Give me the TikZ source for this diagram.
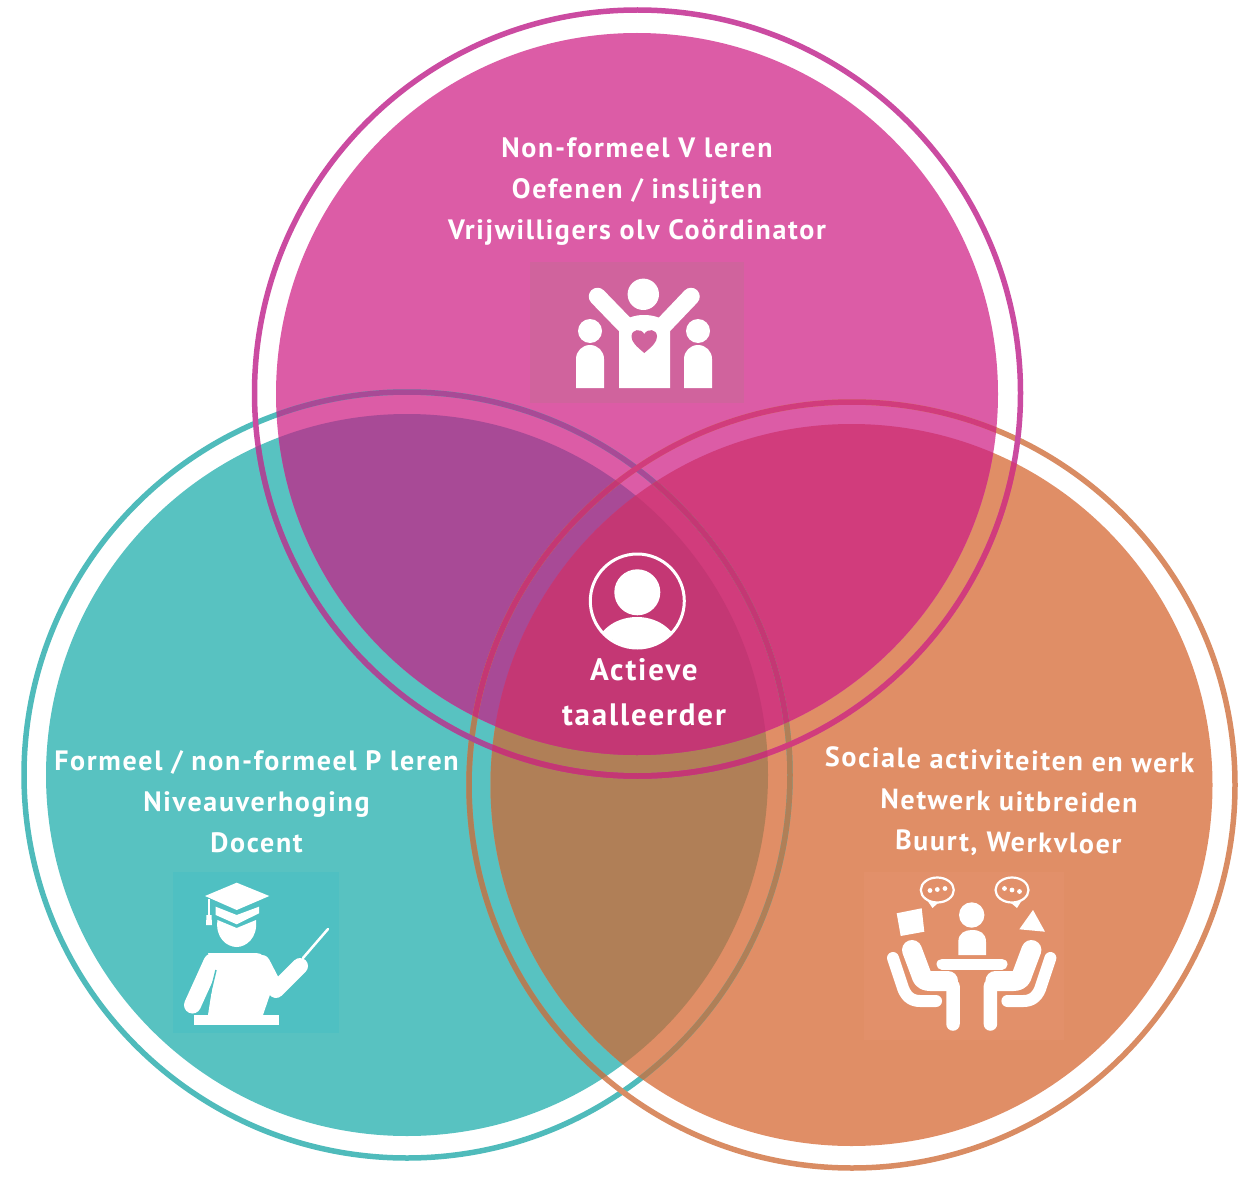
\documentclass[tikz,border=0pt]{standalone}
\usepackage{fontspec}
\setmainfont[LetterSpace=6.0]{PT Sans}
\definecolor{cP}{HTML}{DC5CA6}\definecolor{cT}{HTML}{58C2C1}\definecolor{cO}{HTML}{E08E66}
\definecolor{cPT}{HTML}{A84A96}\definecolor{cPO}{HTML}{D13C7C}\definecolor{cTO}{HTML}{B07F57}\definecolor{cC}{HTML}{C43774}
\definecolor{rP}{HTML}{CB4BA1}\definecolor{rT}{HTML}{4FBBBB}\definecolor{rO}{HTML}{D98C63}
\definecolor{bP}{HTML}{D0639D}\definecolor{bT}{HTML}{4FC0C2}\definecolor{bO}{HTML}{E2906A}
\begin{document}
\begin{tikzpicture}[x=1pt,y=-1pt,
  lbl/.style={text=white,font=\fontsize{28}{41}\selectfont\bfseries,align=center,inner sep=0pt,anchor=center},
  wh/.style={fill=white,draw=none},
  ws/.style={draw=white,line cap=round,line join=round},
  ring/.style={line width=5.5}]
\useasboundingbox[fill=white] (0,0) rectangle (1259,1180);
\def\dP{(637,394) circle (361)}
\def\dT{(407,775) circle (361)}
\def\dO{(851.5,785) circle (361)}
\def\rP{(637.5,393) circle (383)}
\def\rT{(407,775) circle (383)}
\def\rO{(852,785) circle (383)}
% discs
\fill[cT] \dT; \fill[cO] \dO; \fill[cP] \dP;
\begin{scope}\clip \dT; \fill[cTO] \dO; \end{scope}
\begin{scope}\clip \dT; \fill[cPT] \dP; \end{scope}
\begin{scope}\clip \dO; \fill[cPO] \dP; \end{scope}
\begin{scope}\clip \dT; \clip \dO; \fill[cC] \dP; \end{scope}
% rings
\draw[rT,ring] \rT; \draw[rO,ring] \rO; \draw[rP,ring] \rP;
\begin{scope}\clip \dP; \draw[cPT,ring] \rT; \draw[cPO,ring] \rO; \end{scope}
\begin{scope}\clip \dT; \draw[cTO,ring] \rO; \draw[cPT,ring] \rP; \end{scope}
\begin{scope}\clip \dO; \draw[cTO,ring] \rT; \draw[cPO,ring] \rP; \end{scope}
\begin{scope}\clip \dT; \clip \dO; \draw[cC,ring] \rP; \end{scope}
\begin{scope}\clip \dP; \clip \dO; \draw[cC,ring] \rT; \end{scope}
\begin{scope}\clip \dP; \clip \dT; \draw[cC,ring] \rO; \end{scope}
% pink icon
\fill[bP] (530,262) rectangle (744,403);
\fill[wh] (643.3,294.3) circle (15.7);
\draw[ws,line width=17.5] (597.5,296.5) -- (629,329);
\draw[ws,line width=17.5] (691,296.5) -- (660,329);
\fill[wh] (619,388) -- (619,326) .. controls (625,318) and (634,315) .. (644,315) .. controls (654,315) and (664,318) .. (670,326) -- (670,388) -- cycle;
\fill[bP] (644.3,353) .. controls (636,346) and (631.5,342) .. (631.5,336.5) .. controls (631.5,329) and (641,328) .. (644.3,334) .. controls (647.6,328) and (657,329) .. (657,336.5) .. controls (657,342) and (652.6,346) .. (644.3,353) -- cycle;
\fill[wh] (590,331) circle (12);
\fill[wh] (698,331) circle (12);
\fill[wh] (576,388) -- (576,359) arc[start angle=180,end angle=0,x radius=14,y radius=-14] -- (604,388) -- cycle;
\fill[wh] (684,388) -- (684,359) arc[start angle=180,end angle=0,x radius=14,y radius=-14] -- (712,388) -- cycle;
% teacher icon
\fill[bT] (173,872) rectangle (339,1033);
\fill[wh] (236.7,882.7) -- (269.3,896) -- (236.7,910) -- (205,896) -- cycle;
\fill[wh] (215.7,906.7) -- (236.7,915) -- (259,906.7) -- (259,913.3) -- (236.7,924.3) -- (215.7,915) -- cycle;
\fill[wh] (208,899) rectangle (210,915);
\fill[wh] (206.5,915) -- (211.5,915) -- (212,925) -- (206,925) -- cycle;
\fill[wh] (217.5,920) -- (236.7,928) -- (256,920) .. controls (258,938) and (246,947) .. (236.7,947) .. controls (227,947) and (215,938) .. (217.5,920) -- cycle;
\fill[wh] (208,953) -- (256,953) .. controls (262,953) and (265,957) .. (268,963) -- (275,980) -- (263,1015) -- (208,1015) -- (215,970) -- cycle;
\draw[ws,line width=17] (212,962) -- (192.5,1005);
\draw[bT,line width=1.5] (216,970) -- (208,1003);
\draw[ws,line width=16] (262,963) -- (276,990) -- (300,966);
\draw[ws,line width=2.5] (303,958) -- (328,929);
\fill[wh] (194,1015) rectangle (279,1025);
% meeting icon
\fill[bO] (864,872) rectangle (1064,1040);
\draw[white,line width=2.2,fill=none] (937.3,890) ellipse (16.5 and 12.5);
\draw[white,line width=2.2,fill=none] (1012,890) ellipse (16.5 and 12.5);
\fill[wh] (927,900) -- (932.5,908) -- (938,903) -- cycle;
\fill[wh] (1022,900) -- (1017,908) -- (1011,903) -- cycle;
\foreach \p in {(930,890.5),(937.3,889.5),(945,888.5),(1004.5,888.5),(1012,890),(1019.5,891.5)} {\fill[wh] \p circle (2.4);}
\fill[wh] (896.7,913.3) -- (921.7,908.3) -- (924.3,931.7) -- (900.7,936) -- cycle;
\fill[wh] (1033,910) -- (1045,931.7) -- (1019.3,929.3) -- cycle;
\fill[wh] (971.7,915) circle (12.7);
\fill[wh] (958.3,955) -- (958.3,942) .. controls (958.3,933) and (965,930) .. (972,930) .. controls (980,930) and (986,933) .. (986,942) -- (986,955) -- cycle;
\draw[ws,line width=11] (942,964) -- (1002,964);
\foreach \s/\o in {1/0,-1/1943.4} {
  \begin{scope}[xshift=\o pt,xscale=\s]
    \draw[ws,line width=20] (912,950) -- (921,974) .. controls (922,979) and (925,981) .. (930,981) -- (948,981);
    \draw[ws,line width=13.5] (947,982) -- (953,986) -- (953,1024);
    \draw[ws,line width=12] (893,958) -- (902,985) .. controls (905,996) and (911,1001) .. (920,1001) -- (936,1001);
  \end{scope}
}
% centre person
\draw[white,line width=3] (637.3,601) circle (47);
\fill[wh] (637.3,592.3) circle (23);
\begin{scope}\clip (637.3,601) circle (46); \fill[wh] (637,652) ellipse (42 and 35); \end{scope}
% labels
\node[lbl] (tP) at (637,191.5) {Non-formeel V leren\\Oefenen / inslijten\\Vrijwilligers olv Coördinator};
\node[lbl] (tT) at (256.5,802) {Formeel / non-formeel P leren\\Niveauverhoging\\Docent};
\node[lbl,rotate=-1] (tO) at (1009,803) {Sociale activiteiten en werk\\Netwerk uitbreiden\\Buurt, Werkvloer};
\node[lbl,font=\fontsize{31}{45}\selectfont\bfseries] (tC) at (644,692) {Actieve\\taalleerder};
\end{tikzpicture}
\end{document}
